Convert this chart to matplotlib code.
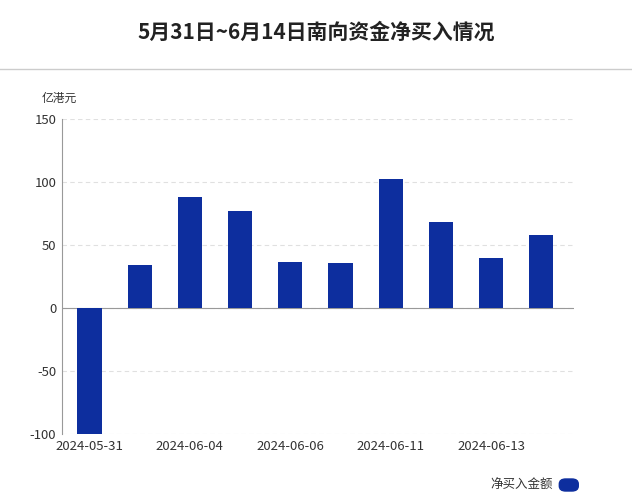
import matplotlib
matplotlib.use("Agg")
import matplotlib.pyplot as plt

plt.rcParams['font.family'] = ['Noto Sans CJK SC', 'DejaVu Sans']

dates = ["2024-05-31","2024-06-03","2024-06-04","2024-06-05","2024-06-06",
         "2024-06-07","2024-06-11","2024-06-12","2024-06-13","2024-06-14"]
values = [-100.5, 34, 88, 77, 36.5, 35.7, 102.5, 68.5, 39.5, 58]
yticks = [150, 100, 50, 0, -50, -100]

fig = plt.figure(figsize=(6.32, 5.0), dpi=100)
fig.text(0.5, 0.935, "5月31日~6月14日南向资金净买入情况", ha='center', va='center',
         fontsize=15, fontweight='bold', color='#222222')
fig.add_artist(plt.Line2D([0, 1], [0.862, 0.862], color='#cccccc', lw=1))

ax = fig.add_axes([0.098, 0.132, 0.81, 0.63])
x = list(range(len(dates)))
ax.bar(x, values, width=0.48, color='#0d2e9e', zorder=3)
ax.set_ylim(-100, 150)
ax.set_xlim(-0.55, len(dates) - 0.35)
ax.set_yticks(yticks)
ax.set_yticklabels([str(v) for v in yticks], fontsize=9.5, color='#333333')
ax.set_xticks(x[::2])
ax.set_xticklabels(dates[::2], fontsize=9.5, color='#333333')
ax.grid(axis='y', color='#e0e0e0', linestyle=(0, (4, 3)), lw=0.8, zorder=0)
for s in ['top', 'right', 'bottom']:
    ax.spines[s].set_visible(False)
ax.spines['left'].set_color('#999999')
ax.tick_params(axis='both', length=0, pad=4)
ax.axhline(0, color='#999999', lw=0.8, zorder=2)
ax.text(-0.04, 1.055, "亿港元", transform=ax.transAxes, fontsize=8.5, color='#333333', ha='left')

fig.text(0.875, 0.03, "净买入金额", ha='right', va='center', fontsize=9, color='#333333')
fig.add_artist(matplotlib.patches.FancyBboxPatch((0.885, 0.018), 0.03, 0.024,
               boxstyle="round,pad=0,rounding_size=0.01", color='#0d2e9e',
               transform=fig.transFigure))
fig.savefig("out.png", dpi=100)
